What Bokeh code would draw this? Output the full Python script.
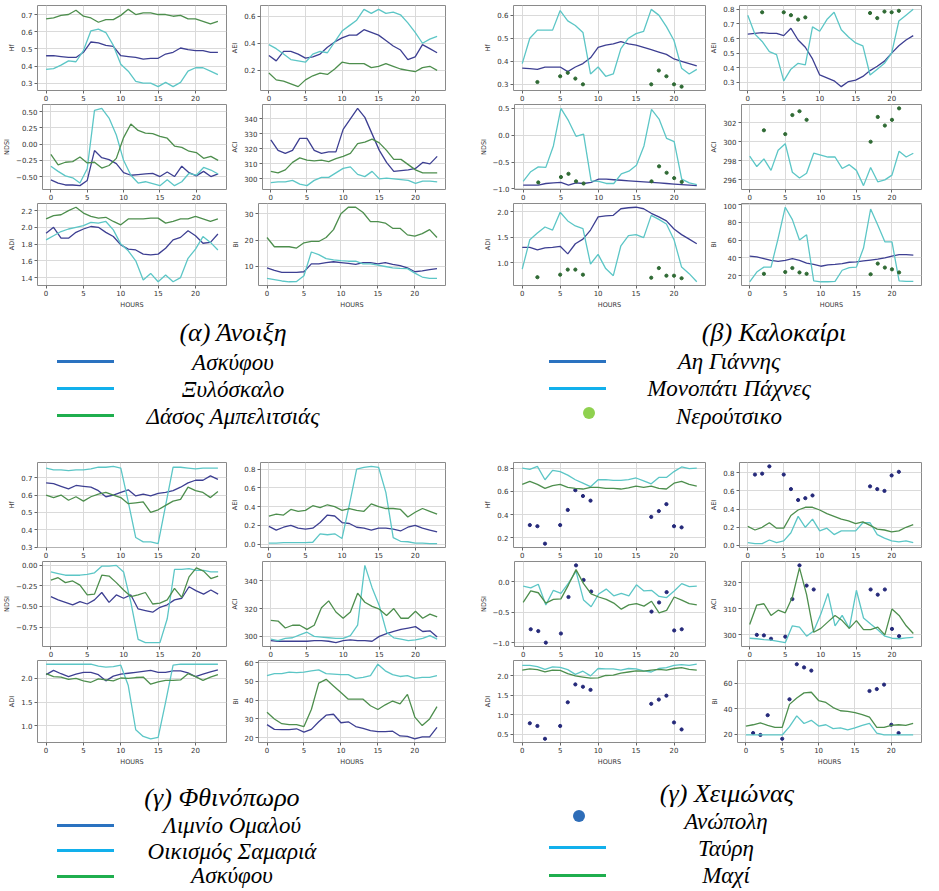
from bokeh.plotting import figure
from bokeh.layouts import row, column
from bokeh.models import Div, Spacer, Range1d, FixedTicker
from bokeh.embed import file_html
from bokeh.resources import INLINE

HOURS = list(range(24))
XTICKS = [0, 5, 10, 15, 20]
XLABEL = "HOURS"

# ---------------- Spring (Ανοιξη) ----------------
SPR_CAPTION = "(α) Άνοιξη"
SPR_SITES = ["Ασκύφου", "Ξυλόσκαλο", "Δάσος Αμπελιτσιάς"]
SPR_HF_ASK = [0.46,0.46,0.455,0.45,0.45,0.48,0.54,0.535,0.52,0.515,0.46,0.455,0.45,0.44,0.445,0.445,0.47,0.48,0.505,0.495,0.49,0.49,0.48,0.48]
SPR_HF_XYL = [0.38,0.385,0.405,0.43,0.425,0.49,0.605,0.615,0.595,0.52,0.41,0.37,0.31,0.30,0.30,0.28,0.305,0.28,0.305,0.37,0.39,0.39,0.37,0.35]
SPR_HF_DAS = [0.675,0.68,0.695,0.70,0.725,0.69,0.68,0.655,0.67,0.67,0.695,0.73,0.70,0.71,0.71,0.70,0.70,0.69,0.695,0.675,0.675,0.66,0.645,0.66]
SPR_NDSI_ASK = [-0.55,-0.60,-0.63,-0.63,-0.64,-0.56,-0.10,-0.21,-0.24,-0.30,-0.44,-0.48,-0.47,-0.46,-0.45,-0.50,-0.43,-0.50,-0.34,-0.44,-0.49,-0.42,-0.50,-0.46]
SPR_NDSI_XYL = [-0.34,-0.42,-0.49,-0.52,-0.60,-0.38,0.52,0.55,0.40,0.14,-0.25,-0.48,-0.60,-0.58,-0.61,-0.64,-0.55,-0.64,-0.58,-0.45,-0.48,-0.36,-0.40,-0.46]
SPR_NDSI_DAS = [-0.16,-0.32,-0.28,-0.27,-0.20,-0.29,-0.28,-0.37,-0.33,-0.22,0.10,0.31,0.21,0.17,0.16,0.12,0.09,-0.03,-0.05,-0.11,-0.13,-0.22,-0.19,-0.25]
SPR_ADI_ASK = [1.93,2.0,1.87,1.87,1.94,1.98,2.01,2.0,1.94,1.89,1.79,1.74,1.73,1.68,1.67,1.68,1.75,1.85,1.88,1.96,1.90,1.81,1.82,1.92]
SPR_ADI_XYL = [1.85,1.90,1.95,1.98,2.00,2.02,2.06,2.05,2.07,1.97,1.80,1.72,1.60,1.37,1.45,1.35,1.43,1.35,1.40,1.63,1.74,1.89,1.82,1.73]
SPR_ADI_DAS = [2.10,2.14,2.15,2.20,2.24,2.17,2.13,2.11,2.12,2.07,2.03,2.10,2.10,2.10,2.11,2.11,2.05,2.07,2.10,2.10,2.13,2.10,2.07,2.10]
SPR_AEI_ASK = [0.31,0.27,0.34,0.34,0.32,0.29,0.30,0.32,0.37,0.41,0.44,0.46,0.46,0.50,0.48,0.46,0.42,0.38,0.35,0.28,0.30,0.39,0.36,0.33]
SPR_AEI_XYL = [0.39,0.36,0.32,0.28,0.27,0.26,0.32,0.34,0.33,0.41,0.49,0.53,0.57,0.65,0.62,0.65,0.62,0.63,0.61,0.55,0.48,0.40,0.43,0.45]
SPR_AEI_DAS = [0.18,0.13,0.12,0.10,0.08,0.13,0.16,0.18,0.17,0.21,0.26,0.25,0.25,0.25,0.22,0.23,0.25,0.23,0.21,0.20,0.19,0.22,0.23,0.20]
SPR_ACI_ASK = [326,319,317,319,327,327,319,317,318,318,333,340,347,341,330,319,311,305,305.5,306,307,311,310,315]
SPR_ACI_XYL = [297.5,298,298,299,296.5,295.5,299,301,301,304,307,308,303,301.5,305,300,300.5,300,299.5,299,297,298.5,298.5,298]
SPR_ACI_DAS = [305,304,306,311,314,312.5,312,312.5,311.5,313.5,315,317,323.5,324.5,326.5,324,319,313,313,309.5,306,304,304,304]
SPR_BI_ASK = [9.5,8.5,7.8,7.8,7.8,8,11,11,11.5,11.8,11.5,11.2,10.8,11.5,11.5,11,11.5,10.8,10.3,9.5,8,8.3,8.8,9.2]
SPR_BI_XYL = [5.5,5,4.5,4.2,4.3,6.5,15.5,14.5,13,12.5,12.2,12,12,11,11,10.5,10,9.5,9.3,9.2,7.5,6,5.5,5.5]
SPR_BI_DAS = [21,17.5,17.5,17.5,17,19,19.5,19.5,21,24,30,32.5,32.5,30.5,27,27,26.5,24.5,24.5,22,21.5,22.5,24,21]

# ---------------- Summer (Καλοκαίρι) ----------------
SUM_CAPTION = "(β) Καλοκαίρι"
SUM_SITES = ["Αη Γιάννης", "Μονοπάτι Πάχνες", "Νερούτσικο"]
SUM_DOT_HOURS = [2, 5, 6, 7, 8, 17, 18, 19, 20, 21]
SUM_HF_AIG = [0.37,0.368,0.365,0.375,0.375,0.375,0.355,0.375,0.39,0.415,0.46,0.47,0.475,0.485,0.475,0.47,0.46,0.45,0.44,0.43,0.41,0.40,0.39,0.38]
SUM_HF_MON = [0.39,0.50,0.535,0.535,0.535,0.62,0.575,0.555,0.525,0.345,0.375,0.335,0.345,0.455,0.50,0.52,0.53,0.625,0.60,0.55,0.49,0.37,0.345,0.365]
SUM_HF_NER = [0.31,0.335,0.35,0.325,0.30,0.30,0.36,0.335,0.30,0.29]
SUM_NDSI_AIG = [-0.93,-0.93,-0.93,-0.90,-0.89,-0.88,-0.93,-0.89,-0.90,-0.88,-0.82,-0.82,-0.83,-0.84,-0.85,-0.86,-0.87,-0.88,-0.89,-0.90,-0.91,-0.92,-0.93,-0.94]
SUM_NDSI_MON = [-0.86,-0.68,-0.59,-0.60,-0.20,0.50,0.27,-0.02,0.02,-0.85,-0.86,-0.90,-0.90,-0.72,-0.67,-0.56,-0.20,0.48,0.30,-0.06,-0.12,-0.82,-0.89,-0.92]
SUM_NDSI_NER = [-0.88,-0.78,-0.72,-0.86,-0.90,-0.86,-0.58,-0.70,-0.80,-0.87]
SUM_ADI_AIG = [1.30,1.30,1.25,1.29,1.30,1.32,1.17,1.37,1.46,1.64,1.90,1.92,1.93,2.06,2.08,2.09,2.06,1.97,1.90,1.82,1.66,1.55,1.46,1.37]
SUM_ADI_MON = [0.87,1.45,1.58,1.70,1.64,1.99,1.82,1.72,1.67,0.97,1.16,0.88,0.74,1.33,1.53,1.55,1.49,1.93,1.85,1.76,1.45,0.91,0.78,0.62]
SUM_ADI_NER = [0.71,0.76,0.86,0.86,0.76,0.70,0.89,0.74,0.74,0.69]
SUM_AEI_AIG = [0.63,0.635,0.64,0.635,0.635,0.62,0.67,0.59,0.54,0.46,0.35,0.33,0.31,0.27,0.305,0.315,0.34,0.38,0.41,0.445,0.50,0.55,0.59,0.62]
SUM_AEI_MON = [0.76,0.63,0.58,0.51,0.49,0.31,0.39,0.43,0.42,0.68,0.65,0.73,0.78,0.66,0.61,0.57,0.55,0.35,0.39,0.43,0.50,0.72,0.76,0.80]
SUM_AEI_NER = [0.78,0.78,0.76,0.73,0.745,0.775,0.74,0.785,0.78,0.79]
SUM_ACI_MON = [298.5,297.4,298.2,297.0,299.1,299.8,296.8,296.2,296.7,298.8,298.6,298.4,298.4,297.2,297.6,297.0,295.4,297.3,295.8,296.0,296.5,299.0,298.4,298.8]
SUM_ACI_NER = [301.2,300.8,302.8,303.2,302.3,300.0,302.6,301.7,302.3,303.5]
SUM_BI_AIG = [42,41,39,37,36,37,39,37,34,32.5,30.5,32,32.5,33.5,35,35.5,36.5,37.5,38.5,40,42,43.5,43.5,43]
SUM_BI_MON = [13,24,29.5,29.5,62,97,83,60,66,14,13,13,13.5,26,29,29.5,51,95,77,58,58,14,13.5,13.5]
SUM_BI_NER = [22,24,28.5,23.5,22,21.5,33.5,29,27,23.5]

# ---------------- Autumn (Φθινόπωρο) ----------------
AUT_CAPTION = "(γ) Φθινόπωρο"
AUT_SITES = ["Λιμνίο Ομαλού", "Οικισμός Σαμαριά", "Ασκύφου"]
AUT_HF_LIM = [0.67,0.665,0.65,0.635,0.655,0.65,0.645,0.625,0.59,0.60,0.615,0.63,0.595,0.605,0.595,0.61,0.615,0.625,0.645,0.67,0.685,0.685,0.71,0.69]
AUT_HF_SAM = [0.755,0.745,0.745,0.74,0.745,0.745,0.75,0.76,0.76,0.765,0.755,0.56,0.355,0.33,0.33,0.32,0.54,0.76,0.76,0.755,0.75,0.755,0.755,0.755]
AUT_HF_ASK = [0.60,0.585,0.60,0.57,0.59,0.565,0.59,0.605,0.615,0.60,0.585,0.55,0.555,0.56,0.50,0.515,0.54,0.565,0.575,0.645,0.625,0.615,0.585,0.62]
AUT_NDSI_LIM = [-0.38,-0.42,-0.45,-0.48,-0.44,-0.47,-0.42,-0.33,-0.45,-0.36,-0.40,-0.36,-0.53,-0.55,-0.57,-0.51,-0.48,-0.42,-0.40,-0.26,-0.31,-0.35,-0.30,-0.35]
AUT_NDSI_SAM = [-0.08,-0.10,-0.12,-0.12,-0.12,-0.11,-0.09,-0.01,-0.01,0.00,-0.08,-0.45,-0.90,-0.94,-0.94,-0.94,-0.65,-0.05,-0.05,-0.04,-0.06,-0.06,-0.08,-0.08]
AUT_NDSI_ASK = [-0.18,-0.15,-0.21,-0.19,-0.24,-0.36,-0.35,-0.12,-0.13,-0.21,-0.30,-0.38,-0.36,-0.33,-0.47,-0.46,-0.42,-0.28,-0.39,-0.14,-0.03,-0.07,-0.16,-0.13]
AUT_ADI_LIM = [2.08,2.17,2.10,2.04,2.09,2.13,2.13,2.08,1.95,2.05,2.09,2.11,2.13,2.15,2.17,2.13,2.13,2.16,2.16,2.12,2.04,2.09,2.14,2.18]
AUT_ADI_SAM = [2.30,2.30,2.30,2.30,2.30,2.30,2.30,2.26,2.24,2.25,2.28,1.85,0.92,0.78,0.73,0.76,1.50,2.28,2.30,2.30,2.30,2.30,2.30,2.30]
AUT_ADI_ASK = [2.10,2.04,2.03,1.98,2.00,1.95,1.92,1.99,1.97,1.95,2.01,2.00,2.02,2.03,1.88,1.93,1.96,1.96,1.97,2.10,2.04,1.96,2.03,2.08]
AUT_AEI_LIM = [0.19,0.15,0.18,0.20,0.17,0.16,0.17,0.23,0.31,0.30,0.23,0.22,0.18,0.17,0.15,0.17,0.17,0.16,0.14,0.18,0.20,0.17,0.15,0.13]
AUT_AEI_SAM = [0.01,0.01,0.015,0.015,0.015,0.015,0.02,0.11,0.10,0.11,0.06,0.42,0.80,0.82,0.83,0.82,0.55,0.07,0.03,0.025,0.01,0.01,0.005,0.005]
AUT_AEI_ASK = [0.30,0.32,0.31,0.37,0.35,0.36,0.41,0.39,0.42,0.40,0.36,0.38,0.36,0.35,0.43,0.40,0.38,0.38,0.37,0.29,0.34,0.38,0.35,0.32]
AUT_ACI_LIM = [297,296.5,296.5,296.5,296.5,296.5,297,297,296.5,295.5,297,297.5,297,297,296.5,300,302,303.5,305,306,307,303.5,304,299.5]
AUT_ACI_SAM = [298,297,298.5,299,301,303,300,299.5,299,298.5,298.5,300.5,308,351,335,322,303,299,298,297,297.5,298.5,300.5,298]
AUT_ACI_ASK = [311.5,311,306,308,308,305,308,320.5,325.5,317.5,313,317.5,331,324.5,321.5,319.5,315,320,313,313,318,313,316,314]
AUT_BI_LIM = [27,24.5,24.3,24.3,24.8,23,24.5,28.5,32,32.5,28,28.5,26,25,23.8,23.3,23.3,23.5,21,20.8,19.5,20.5,20.5,25.5]
AUT_BI_SAM = [53,54,54,54.8,54.5,54.8,55.5,56,54,53.8,53.5,53.5,51.5,52,53,59,55.5,53.5,52.5,53,51.5,52,52,53]
AUT_BI_ASK = [33.5,30,27.5,27,27,26,35,49,51,47.5,44,40.5,40.5,40.5,37,35,37.5,39.5,38,43,31,26.5,30,36.5]

# ---------------- Winter (Χειμώνας) ----------------
WIN_CAPTION = "(γ) Χειμώνας"
WIN_SITES = ["Ανώπολη", "Ταύρη", "Μαχί"]
WIN_DOT_HOURS = [1, 2, 3, 5, 6, 7, 8, 9, 17, 18, 19, 20, 21]
WIN_HF_ANO = [0.31,0.30,0.15,0.31,0.44,0.61,0.56,0.52,0.38,0.43,0.49,0.30,0.29]
WIN_HF_TAV = [0.80,0.79,0.815,0.70,0.78,0.77,0.74,0.70,0.67,0.64,0.70,0.70,0.695,0.695,0.70,0.715,0.69,0.665,0.72,0.72,0.77,0.81,0.795,0.80]
WIN_HF_MAX = [0.66,0.685,0.66,0.625,0.65,0.66,0.635,0.625,0.62,0.635,0.635,0.625,0.625,0.62,0.63,0.645,0.635,0.645,0.625,0.62,0.67,0.685,0.66,0.645]
WIN_NDSI_ANO = [-0.78,-0.81,-1.00,-0.85,-0.25,0.27,0.03,-0.16,-0.49,-0.34,-0.17,-0.80,-0.78]
WIN_NDSI_TAV = [-0.07,-0.10,-0.04,-0.38,-0.14,-0.19,-0.02,0.17,-0.30,-0.41,-0.20,-0.12,-0.23,-0.19,-0.23,-0.05,-0.15,-0.14,-0.24,-0.26,-0.15,-0.03,-0.08,-0.07]
WIN_NDSI_MAX = [-0.34,-0.15,-0.18,-0.35,-0.29,-0.28,-0.05,0.20,-0.03,-0.20,-0.25,-0.29,-0.35,-0.45,-0.38,-0.36,-0.40,-0.32,-0.51,-0.47,-0.25,-0.30,-0.36,-0.38]
WIN_ADI_ANO = [0.78,0.71,0.38,0.71,1.32,1.78,1.72,1.64,1.28,1.39,1.49,0.80,0.62]
WIN_ADI_TAV = [2.27,2.27,2.24,2.17,2.23,2.22,2.16,2.04,2.12,2.00,2.19,2.18,2.18,2.15,2.19,2.18,2.13,2.10,2.19,2.21,2.27,2.29,2.27,2.30]
WIN_ADI_MAX = [2.15,2.18,2.16,2.10,2.15,2.14,2.06,2.00,1.97,1.94,1.95,2.01,2.02,2.07,2.10,2.13,2.12,2.15,2.17,2.15,2.19,2.21,2.17,2.15]
WIN_AEI_ANO = [0.78,0.79,0.87,0.78,0.62,0.50,0.52,0.55,0.65,0.62,0.60,0.77,0.81]
WIN_AEI_TAV = [0.03,0.02,0.02,0.06,0.03,0.05,0.14,0.32,0.20,0.29,0.16,0.19,0.12,0.16,0.16,0.16,0.25,0.25,0.12,0.08,0.05,0.04,0.05,0.03]
WIN_AEI_MAX = [0.21,0.17,0.20,0.25,0.19,0.19,0.33,0.39,0.42,0.42,0.39,0.35,0.32,0.29,0.27,0.24,0.26,0.22,0.18,0.17,0.15,0.16,0.20,0.23]
WIN_ACI_ANO = [300,299.8,298.5,299.3,313.8,326.8,319,317.5,317.5,315.5,317.5,302.3,299.5]
WIN_ACI_TAV = [298.7,298.5,298.2,298,297.5,297,303.5,303,299.5,301.5,308,316,303.5,307.5,302.5,317.2,306.5,304.2,302,299.5,298.7,298.5,298.8,299]
WIN_ACI_MAX = [304,311.5,312,307.5,309.5,308.5,314.5,325.8,315.5,301,302.5,305,307.5,305.5,302.5,305.5,302,302,303,300,310,307.5,303.5,300.5]
WIN_BI_ANO = [21,19.5,35,16.5,47.5,75,72.5,70,54,55.5,59,27.5,21]
WIN_BI_TAV = [19.5,19.5,19.5,19.5,19.5,19.5,26,34.5,28.5,31,26.5,27.5,24.5,25,23.5,25,27,28.5,21,19.5,19.5,19.5,19.5,19.5]
WIN_BI_MAX = [26.5,27.5,29,27,25.5,25.5,43.5,48.5,52.5,53,46.5,45,41,38.5,38,37,35.5,33.5,25.5,25.5,27,27.5,27,28.5]

# ---------------- y tick values and labels ----------------
SPR_HF_TICKS = [0.3, 0.4, 0.5, 0.6, 0.7];        SPR_HF_LABELS = ["0.3", "0.4", "0.5", "0.6", "0.7"]
SPR_NDSI_TICKS = [-0.5, -0.25, 0.0, 0.25, 0.5];  SPR_NDSI_LABELS = ["−0.50", "−0.25", "0.00", "0.25", "0.50"]
SPR_ADI_TICKS = [1.4, 1.6, 1.8, 2.0, 2.2];       SPR_ADI_LABELS = ["1.4", "1.6", "1.8", "2.0", "2.2"]
SPR_AEI_TICKS = [0.2, 0.4, 0.6];                 SPR_AEI_LABELS = ["0.2", "0.4", "0.6"]
SPR_ACI_TICKS = [300, 310, 320, 330, 340];       SPR_ACI_LABELS = ["300", "310", "320", "330", "340"]
SPR_BI_TICKS = [10, 20, 30];                     SPR_BI_LABELS = ["10", "20", "30"]
SUM_HF_TICKS = [0.3, 0.4, 0.5, 0.6];             SUM_HF_LABELS = ["0.3", "0.4", "0.5", "0.6"]
SUM_NDSI_TICKS = [-1.0, -0.5, 0.0, 0.5];         SUM_NDSI_LABELS = ["−1.0", "−0.5", "0.0", "0.5"]
SUM_ADI_TICKS = [1.0, 1.5, 2.0];                 SUM_ADI_LABELS = ["1.0", "1.5", "2.0"]
SUM_AEI_TICKS = [0.3, 0.4, 0.5, 0.6, 0.7, 0.8];  SUM_AEI_LABELS = ["0.3", "0.4", "0.5", "0.6", "0.7", "0.8"]
SUM_ACI_TICKS = [296, 298, 300, 302];            SUM_ACI_LABELS = ["296", "298", "300", "302"]
SUM_BI_TICKS = [20, 40, 60, 80, 100];            SUM_BI_LABELS = ["20", "40", "60", "80", "100"]
AUT_HF_TICKS = [0.3, 0.4, 0.5, 0.6, 0.7];        AUT_HF_LABELS = ["0.3", "0.4", "0.5", "0.6", "0.7"]
AUT_NDSI_TICKS = [-0.75, -0.5, -0.25, 0.0];      AUT_NDSI_LABELS = ["−0.75", "−0.50", "−0.25", "0.00"]
AUT_ADI_TICKS = [1.0, 1.5, 2.0];                 AUT_ADI_LABELS = ["1.0", "1.5", "2.0"]
AUT_AEI_TICKS = [0.0, 0.2, 0.4, 0.6, 0.8];       AUT_AEI_LABELS = ["0.0", "0.2", "0.4", "0.6", "0.8"]
AUT_ACI_TICKS = [300, 320, 340];                 AUT_ACI_LABELS = ["300", "320", "340"]
AUT_BI_TICKS = [20, 30, 40, 50, 60];             AUT_BI_LABELS = ["20", "30", "40", "50", "60"]
WIN_HF_TICKS = [0.2, 0.4, 0.6, 0.8];             WIN_HF_LABELS = ["0.2", "0.4", "0.6", "0.8"]
WIN_NDSI_TICKS = [-1.0, -0.5, 0.0];              WIN_NDSI_LABELS = ["−1.0", "−0.5", "0.0"]
WIN_ADI_TICKS = [0.5, 1.0, 1.5, 2.0];            WIN_ADI_LABELS = ["0.5", "1.0", "1.5", "2.0"]
WIN_AEI_TICKS = [0.0, 0.2, 0.4, 0.6, 0.8];       WIN_AEI_LABELS = ["0.0", "0.2", "0.4", "0.6", "0.8"]
WIN_ACI_TICKS = [300, 310, 320];                 WIN_ACI_LABELS = ["300", "310", "320"]
WIN_BI_TICKS = [20, 40, 60];                     WIN_BI_LABELS = ["20", "40", "60"]

# ---------------- styles ----------------
C_PURPLE = "#3d3f92"
C_CYAN = "#5cc6c6"
C_GREEN = "#4d8e4d"
C_DOT_SUM = "#2f6a34"
C_DOT_WIN = "#25297a"
LEG_BLUE = "#2a72c0"
LEG_CYAN = "#12b0ec"
LEG_GREEN = "#1fae4e"
LEG_DOT_SUM = "#8fd14f"
LEG_DOT_WIN = "#2e6db8"
TICK_FONT = "DejaVu Sans"
FH = 86


def panel(series, ticks, labels, ylab, L, fw, R, last):
    B = 22 if last else 12
    T = 1
    p = figure(width=L + fw + R, height=T + FH + B,
               x_range=Range1d(-1.15, 24.15),
               output_backend="svg", toolbar_location=None,
               min_border_left=L, min_border_right=R,
               min_border_top=T, min_border_bottom=B)
    for xs, ys, kind, color in series:
        if kind == "line":
            p.line(xs, ys, line_color=color, line_width=1.3)
        else:
            p.scatter(xs, ys, size=3.2, fill_color=color, line_color=color)
    p.outline_line_color = "#8a8a8a"
    p.outline_line_width = 1
    p.background_fill_color = "white"
    p.grid.grid_line_color = "#dadada"
    p.grid.grid_line_width = 1
    p.xaxis.ticker = FixedTicker(ticks=XTICKS)
    p.yaxis.ticker = FixedTicker(ticks=ticks)
    p.yaxis.major_label_overrides = dict(zip(ticks, labels))
    p.yaxis.axis_label = ylab
    if last:
        p.xaxis.axis_label = XLABEL
    for ax in (p.xaxis[0], p.yaxis[0]):
        ax.axis_line_color = None
        ax.major_tick_out = 3
        ax.major_tick_in = 0
        ax.minor_tick_out = 0
        ax.minor_tick_in = 0
        ax.major_tick_line_color = "#666666"
        ax.major_label_text_font = TICK_FONT
        ax.major_label_text_font_size = "7px"
        ax.major_label_text_color = "#333333"
        ax.axis_label_text_font = TICK_FONT
        ax.axis_label_text_font_size = "6.5px"
        ax.axis_label_text_font_style = "normal"
        ax.axis_label_text_color = "#333333"
        ax.axis_label_standoff = 2
    p.xaxis.major_label_standoff = 1
    p.yaxis.major_label_standoff = 2
    return p


def quadrant(left, right, geo):
    Ll, fwl, Rl, Lr, fwr, Rr = geo
    rows = []
    for i in range(3):
        last = (i == 2)
        pl = panel(*left[i], Ll, fwl, Rl, last)
        pr = panel(*right[i], Lr, fwr, Rr, last)
        rows.append(row(pl, pr))
    return column(*rows)


def L3(a, b, c):
    return [(HOURS, a, "line", C_PURPLE), (HOURS, b, "line", C_CYAN), (HOURS, c, "line", C_GREEN)]


spring_left = [(L3(SPR_HF_ASK, SPR_HF_XYL, SPR_HF_DAS), SPR_HF_TICKS, SPR_HF_LABELS, "Hf"),
               (L3(SPR_NDSI_ASK, SPR_NDSI_XYL, SPR_NDSI_DAS), SPR_NDSI_TICKS, SPR_NDSI_LABELS, "NDSI"),
               (L3(SPR_ADI_ASK, SPR_ADI_XYL, SPR_ADI_DAS), SPR_ADI_TICKS, SPR_ADI_LABELS, "ADI")]
spring_right = [(L3(SPR_AEI_ASK, SPR_AEI_XYL, SPR_AEI_DAS), SPR_AEI_TICKS, SPR_AEI_LABELS, "AEI"),
                (L3(SPR_ACI_ASK, SPR_ACI_XYL, SPR_ACI_DAS), SPR_ACI_TICKS, SPR_ACI_LABELS, "ACI"),
                (L3(SPR_BI_ASK, SPR_BI_XYL, SPR_BI_DAS), SPR_BI_TICKS, SPR_BI_LABELS, "BI")]


def S3(a, b, dots):
    out = []
    if a is not None:
        out.append((HOURS, a, "line", C_PURPLE))
    out.append((HOURS, b, "line", C_CYAN))
    out.append((SUM_DOT_HOURS, dots, "dot", C_DOT_SUM))
    return out


summer_left = [(S3(SUM_HF_AIG, SUM_HF_MON, SUM_HF_NER), SUM_HF_TICKS, SUM_HF_LABELS, "Hf"),
               (S3(SUM_NDSI_AIG, SUM_NDSI_MON, SUM_NDSI_NER), SUM_NDSI_TICKS, SUM_NDSI_LABELS, "NDSI"),
               (S3(SUM_ADI_AIG, SUM_ADI_MON, SUM_ADI_NER), SUM_ADI_TICKS, SUM_ADI_LABELS, "ADI")]
summer_right = [(S3(SUM_AEI_AIG, SUM_AEI_MON, SUM_AEI_NER), SUM_AEI_TICKS, SUM_AEI_LABELS, "AEI"),
                (S3(None, SUM_ACI_MON, SUM_ACI_NER), SUM_ACI_TICKS, SUM_ACI_LABELS, "ACI"),
                (S3(SUM_BI_AIG, SUM_BI_MON, SUM_BI_NER), SUM_BI_TICKS, SUM_BI_LABELS, "BI")]

autumn_left = [(L3(AUT_HF_LIM, AUT_HF_SAM, AUT_HF_ASK), AUT_HF_TICKS, AUT_HF_LABELS, "Hf"),
               (L3(AUT_NDSI_LIM, AUT_NDSI_SAM, AUT_NDSI_ASK), AUT_NDSI_TICKS, AUT_NDSI_LABELS, "NDSI"),
               (L3(AUT_ADI_LIM, AUT_ADI_SAM, AUT_ADI_ASK), AUT_ADI_TICKS, AUT_ADI_LABELS, "ADI")]
autumn_right = [(L3(AUT_AEI_LIM, AUT_AEI_SAM, AUT_AEI_ASK), AUT_AEI_TICKS, AUT_AEI_LABELS, "AEI"),
                (L3(AUT_ACI_LIM, AUT_ACI_SAM, AUT_ACI_ASK), AUT_ACI_TICKS, AUT_ACI_LABELS, "ACI"),
                (L3(AUT_BI_LIM, AUT_BI_SAM, AUT_BI_ASK), AUT_BI_TICKS, AUT_BI_LABELS, "BI")]


def W3(dots, b, c):
    return [(WIN_DOT_HOURS, dots, "dot", C_DOT_WIN), (HOURS, b, "line", C_CYAN), (HOURS, c, "line", C_GREEN)]


winter_left = [(W3(WIN_HF_ANO, WIN_HF_TAV, WIN_HF_MAX), WIN_HF_TICKS, WIN_HF_LABELS, "Hf"),
               (W3(WIN_NDSI_ANO, WIN_NDSI_TAV, WIN_NDSI_MAX), WIN_NDSI_TICKS, WIN_NDSI_LABELS, "NDSI"),
               (W3(WIN_ADI_ANO, WIN_ADI_TAV, WIN_ADI_MAX), WIN_ADI_TICKS, WIN_ADI_LABELS, "ADI")]
winter_right = [(W3(WIN_AEI_ANO, WIN_AEI_TAV, WIN_AEI_MAX), WIN_AEI_TICKS, WIN_AEI_LABELS, "AEI"),
                (W3(WIN_ACI_ANO, WIN_ACI_TAV, WIN_ACI_MAX), WIN_ACI_TICKS, WIN_ACI_LABELS, "ACI"),
                (W3(WIN_BI_ANO, WIN_BI_TAV, WIN_BI_MAX), WIN_BI_TICKS, WIN_BI_LABELS, "BI")]

# (left border, frame width, right border) for the left and right columns; whole layout is 923 x 875
GEO_LEFT = (37, 189, 2, 28, 189, 3)      # 228 + 220
GEO_RIGHT = (37, 192, 2, 28, 186, 2)     # 231 + 216
GAP = 28


def txt(s, x, y, fs):
    return (f'<div style="position:absolute;left:{x}px;top:{y}px;transform:translate(-50%,-50%);'
            f'white-space:nowrap;font-size:{fs}px;line-height:1;font-style:italic;'
            f'font-family:\'Liberation Serif\',serif;"><i>{s}</i></div>')


def legend_block(w, h, caption, cap_x, cap_y, items, text_x):
    parts = [f'<div style="position:relative;width:{w}px;height:{h}px;overflow:hidden;color:#000;">']
    parts.append(txt(caption, cap_x, cap_y, 26))
    for kind, color, label, mx, my, ty in items:
        if kind == "line":
            parts.append(f'<div style="position:absolute;left:{mx}px;top:{my - 1}px;width:57px;height:2.5px;background:{color};"></div>')
        else:
            parts.append(f'<div style="position:absolute;left:{mx - 6}px;top:{my - 6}px;width:12px;height:12px;border-radius:50%;background:{color};"></div>')
        parts.append(txt(label, text_x, ty, 23))
    parts.append('</div>')
    return Div(text="".join(parts), width=w, height=h)


TOP_H = 140   # layout y 311 -> 451 (page 319 -> 459)
BOT_H = 117   # layout y 758 -> 875 (page 766 -> 883)
spring_leg = legend_block(448, TOP_H, SPR_CAPTION, 228, 17,
                          [("line", LEG_BLUE, SPR_SITES[0], 52, 45, 46),
                           ("line", LEG_CYAN, SPR_SITES[1], 52, 72, 73),
                           ("line", LEG_GREEN, SPR_SITES[2], 52, 99, 100)], 228)
summer_leg = legend_block(475, TOP_H, SUM_CAPTION, 311, 17,
                          [("line", LEG_BLUE, SUM_SITES[0], 86, 45, 45),
                           ("line", LEG_CYAN, SUM_SITES[1], 86, 72, 72),
                           ("dot", LEG_DOT_SUM, SUM_SITES[2], 126, 97, 100)], 266)
autumn_leg = legend_block(448, BOT_H, AUT_CAPTION, 217, 25,
                          [("line", LEG_BLUE, AUT_SITES[0], 52, 52, 52),
                           ("line", LEG_CYAN, AUT_SITES[1], 52, 77, 78),
                           ("line", LEG_GREEN, AUT_SITES[2], 52, 103, 102)], 227)
winter_leg = legend_block(475, BOT_H, WIN_CAPTION, 264, 21,
                          [("dot", LEG_DOT_WIN, WIN_SITES[0], 116, 43, 48),
                           ("line", LEG_CYAN, WIN_SITES[1], 86, 74, 75),
                           ("line", LEG_GREEN, WIN_SITES[2], 86, 102, 102)], 263)

top_row = row(quadrant(spring_left, spring_right, GEO_LEFT), Spacer(width=GAP, height=10),
              quadrant(summer_left, summer_right, GEO_RIGHT))
bot_row = row(quadrant(autumn_left, autumn_right, GEO_LEFT), Spacer(width=GAP, height=10),
              quadrant(winter_left, winter_right, GEO_RIGHT))

layout = column(Spacer(width=10, height=4), top_row, row(spring_leg, summer_leg),
                bot_row, row(autumn_leg, winter_leg))

open("out.html", "w").write(file_html(layout, INLINE, title="Seasons"))
